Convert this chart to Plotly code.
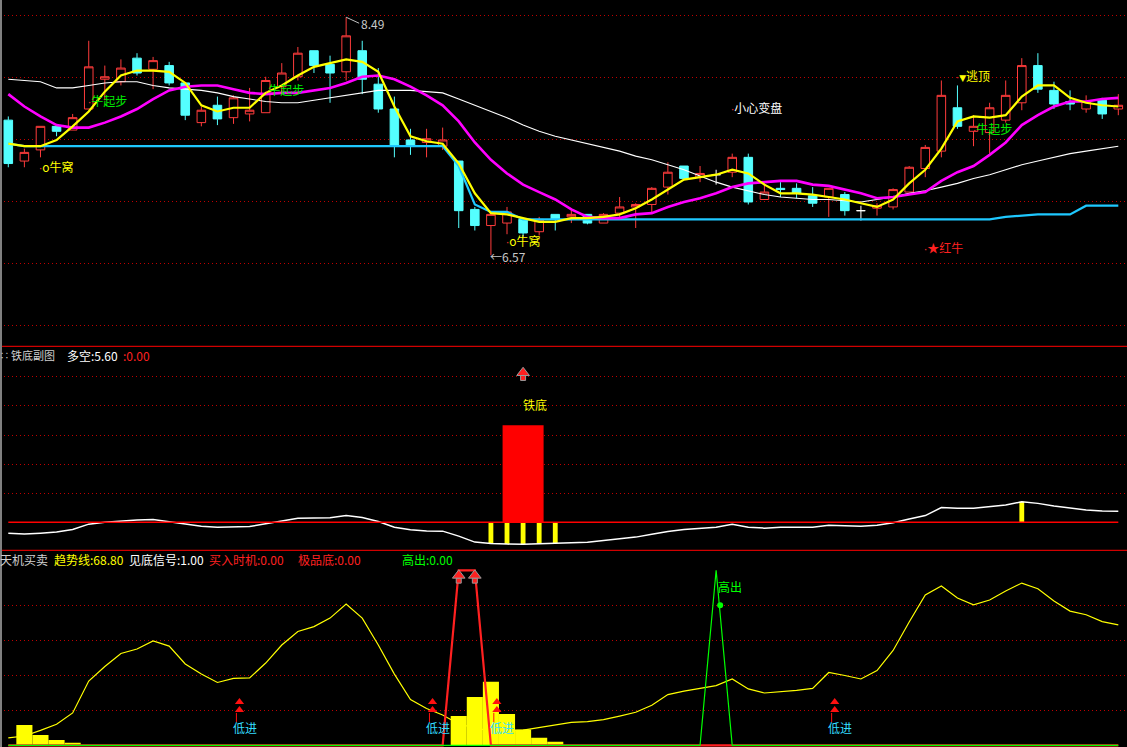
import plotly.graph_objects as go

W, H = 1127, 747
FONT = "Noto Sans CJK SC, Noto Sans, sans-serif"

# ---------------- main chart data ----------------
bars = list(range(70))
k_open = [7.66, 7.33, 7.42, 7.61, 7.58, 7.75, 7.99, 7.97, 8.16, 8.07,
          8.10, 7.96, 7.64, 7.78, 7.68, 7.71, 7.72, 7.93, 8.01, 8.22,
          8.11, 8.05, 8.22, 7.95, 7.75, 7.50, 7.48, 7.45, 7.33, 6.94,
          6.81, 6.83, 6.86, 6.76, 6.90, 6.88, 6.90, 6.83, 6.91, 6.96,
          6.98, 7.12, 7.29, 7.20, 7.22, 7.24, 7.36, 7.02, 7.11, 7.11,
          7.05, 7.04, 7.06, 6.93, 6.95, 6.96, 7.08, 7.27, 7.41, 7.76,
          7.57, 7.56, 7.66, 7.80, 8.10, 7.90, 7.81, 7.75, 7.82, 7.75]
k_high = [7.69, 7.43, 7.61, 7.62, 7.71, 8.30, 8.10, 8.15, 8.20, 8.17,
          8.13, 7.96, 7.77, 7.85, 7.86, 7.92, 8.01, 8.12, 8.25, 8.22,
          8.18, 8.49, 8.30, 8.08, 7.85, 7.59, 7.59, 7.60, 7.33, 6.96,
          6.90, 6.96, 6.86, 6.88, 6.90, 6.94, 6.90, 6.91, 7.04, 6.99,
          7.12, 7.32, 7.29, 7.29, 7.26, 7.39, 7.39, 7.15, 7.16, 7.15,
          7.12, 7.11, 7.08, 6.97, 6.99, 7.11, 7.29, 7.46, 7.98, 7.94,
          7.70, 7.80, 7.98, 8.16, 8.20, 7.97, 7.90, 7.86, 7.84, 7.87]
k_low = [7.28, 7.28, 7.36, 7.53, 7.58, 7.75, 7.82, 7.94, 8.02, 7.91,
         7.94, 7.66, 7.61, 7.62, 7.63, 7.65, 7.72, 7.88, 7.98, 8.04,
         7.80, 7.98, 7.87, 7.72, 7.36, 7.38, 7.36, 7.42, 6.79, 6.77,
         6.57, 6.74, 6.72, 6.73, 6.77, 6.83, 6.82, 6.83, 6.86, 6.79,
         6.91, 7.06, 7.19, 7.16, 7.14, 7.20, 6.98, 7.02, 7.04, 7.03,
         6.96, 6.88, 6.89, 6.85, 6.89, 6.94, 7.08, 7.20, 7.36, 7.59,
         7.45, 7.39, 7.64, 7.74, 7.88, 7.75, 7.74, 7.72, 7.67, 7.70]
k_close = [7.31, 7.40, 7.61, 7.57, 7.68, 8.09, 8.01, 8.08, 8.04, 8.14,
           7.96, 7.70, 7.74, 7.67, 7.84, 7.74, 7.98, 8.04, 8.20, 8.10,
           8.04, 8.34, 7.99, 7.75, 7.45, 7.45, 7.51, 7.50, 6.93, 6.81,
           6.90, 6.92, 6.75, 6.86, 6.86, 6.90, 6.83, 6.90, 6.96, 6.98,
           7.11, 7.24, 7.19, 7.23, 7.22, 7.36, 7.00, 7.08, 7.10, 7.07,
           6.99, 7.11, 6.93, 6.93, 6.97, 7.10, 7.28, 7.44, 7.86, 7.61,
           7.61, 7.76, 7.86, 8.10, 7.91, 7.79, 7.79, 7.81, 7.71, 7.78]

ma_short = [7.47, 7.45, 7.45, 7.50, 7.61, 7.73, 7.89, 8.02, 8.06, 8.06,
            8.05, 7.96, 7.78, 7.73, 7.76, 7.76, 7.88, 7.94, 8.02, 8.09,
            8.12, 8.15, 8.13, 8.05, 7.77, 7.53, 7.49, 7.47, 7.31, 7.07,
            6.91, 6.90, 6.87, 6.84, 6.84, 6.87, 6.87, 6.88, 6.90, 6.95,
            7.02, 7.10, 7.18, 7.20, 7.22, 7.26, 7.23, 7.14, 7.07, 7.07,
            7.06, 7.04, 7.02, 6.99, 6.96, 7.02, 7.15, 7.26, 7.43, 7.65,
            7.69, 7.68, 7.70, 7.85, 7.94, 7.94, 7.84, 7.80, 7.78, 7.77]
ma_mid = [7.87, 7.77, 7.69, 7.62, 7.60, 7.60, 7.64, 7.69, 7.75, 7.83,
          7.90, 7.93, 7.94, 7.94, 7.91, 7.88, 7.87, 7.88, 7.88, 7.90,
          7.92, 7.96, 8.01, 8.02, 7.99, 7.93, 7.86, 7.78, 7.65, 7.48,
          7.34, 7.23, 7.14, 7.08, 7.02, 6.94, 6.88, 6.87, 6.87, 6.90,
          6.91, 6.96, 7.00, 7.03, 7.07, 7.12, 7.15, 7.16, 7.17, 7.17,
          7.14, 7.13, 7.10, 7.07, 7.03, 7.04, 7.06, 7.08, 7.17, 7.24,
          7.29, 7.38, 7.48, 7.62, 7.70, 7.77, 7.81, 7.81, 7.83, 7.84]
ma_long = [7.99, 7.98, 7.97, 7.92, 7.92, 7.94, 7.96, 7.97, 7.97, 7.94,
           7.92, 7.91, 7.90, 7.88, 7.85, 7.83, 7.81, 7.80, 7.80, 7.82,
           7.84, 7.86, 7.88, 7.90, 7.90, 7.90, 7.89, 7.88, 7.83, 7.78,
           7.73, 7.68, 7.62, 7.57, 7.53, 7.50, 7.47, 7.44, 7.41, 7.37,
           7.34, 7.30, 7.26, 7.21, 7.16, 7.12, 7.09, 7.06, 7.04, 7.03,
           7.02, 7.02, 7.01, 7.00, 7.02, 7.04, 7.07, 7.09, 7.12, 7.15,
           7.19, 7.22, 7.26, 7.30, 7.33, 7.36, 7.39, 7.41, 7.43, 7.45]
support = [7.47, 7.45, 7.45, 7.45, 7.45, 7.45, 7.45, 7.45, 7.45, 7.45,
           7.45, 7.45, 7.45, 7.45, 7.45, 7.45, 7.45, 7.45, 7.45, 7.45,
           7.45, 7.45, 7.45, 7.45, 7.45, 7.45, 7.45, 7.45, 7.29, 6.98,
           6.92, 6.92, 6.86, 6.86, 6.86, 6.86, 6.86, 6.86, 6.86, 6.86,
           6.86, 6.86, 6.86, 6.86, 6.86, 6.86, 6.86, 6.86, 6.86, 6.86,
           6.86, 6.86, 6.86, 6.86, 6.86, 6.86, 6.86, 6.86, 6.86, 6.86,
           6.86, 6.86, 6.88, 6.89, 6.90, 6.90, 6.90, 6.97, 6.97, 6.97]

# signal labels on the main chart: (bar, price level, text, colour)
top_labels = [
    (2, 7.29, "o牛窝", "#ffff00"),
    (31, 6.69, "o牛窝", "#ffff00"),
    (5, 7.82, "牛起步", "#00ee00"),
    (16, 7.91, "牛起步", "#00ee00"),
    (60, 7.59, "牛起步", "#00ee00"),
    (45, 7.76, "小心变盘", "#ffffff"),
    (59, 8.02, "<span style='font-family:DejaVu Sans;font-size:9px'>▼</span>逃顶", "#ffff00"),
    (57, 6.63, "★红牛", "#ff2020"),
]

# ---------------- sub chart 1: 铁底副图 ----------------
duokong = [-5.5, -5.9, -5.4, -4.8, -3.6, -0.9, 0.0, 0.7, 1.2, 1.4,
           0.3, -0.7, -1.9, -2.4, -2.4, -2.1, -0.7, 0.7, 2.0, 2.2,
           2.3, 3.4, 2.4, 0.4, -2.5, -3.7, -4.3, -4.4, -6.9, -9.9,
           -10.6, -10.9, -11.0, -10.7, -10.4, -10.0, -10.0, -9.1, -8.1, -7.4,
           -6.0, -4.6, -3.6, -3.0, -2.4, -1.0, -2.5, -2.9, -2.5, -2.5,
           -2.5, -1.5, -1.8, -1.9, -1.5, -0.2, 1.7, 3.4, 7.4, 7.0,
           7.0, 7.7, 8.7, 10.3, 9.5, 8.2, 7.2, 6.2, 5.7, 5.6]
tiedi_idx = [32]
tiedi_val = [48.6]
stick_idx = [30, 31, 32, 33, 34, 63]

# ---------------- sub chart 2: 天机买卖 ----------------
trend = [4.3, 5.3, 8.5, 12.0, 18.5, 36.7, 45.0, 52.5, 55.0, 59.6,
         56.7, 46.5, 40.7, 35.9, 38.2, 38.5, 47.0, 57.3, 65.0, 67.8,
         72.7, 80.7, 72.7, 57.3, 40.7, 26.2, 21.0, 17.3, 12.2, 9.9,
         8.2, 8.2, 8.7, 10.3, 11.8, 13.1, 13.5, 14.7, 16.7, 18.9,
         22.9, 29.0, 31.0, 32.6, 34.1, 37.9, 32.2, 29.9, 30.5, 31.4,
         32.5, 41.6, 39.9, 37.9, 42.7, 54.2, 70.5, 85.9, 91.0, 84.2,
         80.3, 83.0, 88.2, 92.7, 89.5, 82.5, 76.7, 74.6, 70.7, 68.8]
hist_idx = [1, 2, 3, 4, 28, 29, 30, 31, 32, 33, 34]
hist_val = [11.6, 5.9, 3.0, 1.5, 16.7, 27.6, 36.3, 17.9, 9.1, 4.3, 2.1]
buy_line = [0, 0, 0, 0, 0, 0, 0, 0, 0, 0,
            0, 0, 0, 0, 0, 0, 0, 0, 0, 0,
            0, 0, 0, 0, 0, 0, 0, 0, 100, 100,
            0, 0, 0, 0, 0, 0, 0, 0, 0, 0,
            0, 0, 0, 0, 0, 0, 0, 0, 0, 0,
            0, 0, 0, 0, 0, 0, 0, 0, 0, 0,
            0, 0, 0, 0, 0, 0, 0, 0, 0, 0]
high_out = [0, 0, 0, 0, 0, 0, 0, 0, 0, 0,
            0, 0, 0, 0, 0, 0, 0, 0, 0, 0,
            0, 0, 0, 0, 0, 0, 0, 0, 0, 0,
            0, 0, 0, 0, 0, 0, 0, 0, 0, 0,
            0, 0, 0, 0, 100, 0, 0, 0, 0, 0,
            0, 0, 0, 0, 0, 0, 0, 0, 0, 0,
            0, 0, 0, 0, 0, 0, 0, 0, 0, 0]
high_out_dot = [(44, 80)]
low_in_idx = [14, 26, 30, 51]

# ---------------- layout helpers ----------------
XR = [-0.516, 69.54]
TOP_DOM = [1 - 346.3 / H, 1.0]
MID_DOM = [1 - 550.3 / H, 1 - 346.3 / H]
BOT_DOM = [0.0, 1 - 550.3 / H]
GRID = "#c00000"


def px(x):
    return x / W


def py(y):
    return 1 - y / H


def pick(vals, keep):
    return [v if k else None for v, k in zip(vals, keep)]


def block_arrow(xs, level, xa, ya, span):
    """red block arrow icon: triangle head + short shaft"""
    head = go.Scatter(x=xs, y=[level + span] * len(xs), mode="markers",
                      marker=dict(symbol="triangle-up", size=11, color="#ff2020",
                                  line=dict(color="#9a9a9a", width=1)),
                      xaxis=xa, yaxis=ya, hoverinfo="skip")
    shaft = go.Scatter(x=xs, y=[level - span] * len(xs), mode="markers",
                       marker=dict(symbol="square", size=5, color="#ff2020",
                                   line=dict(color="#9a9a9a", width=1)),
                       xaxis=xa, yaxis=ya, hoverinfo="skip")
    return [shaft, head]


fig = go.Figure()

# main chart lines
for vals, col, wd in [(ma_long, "#ffffff", 1.1), (support, "#1ec8ff", 2.2),
                      (ma_mid, "#ff00ff", 2.6), (ma_short, "#ffff00", 2.2)]:
    fig.add_trace(go.Scatter(x=bars, y=vals, mode="lines", line=dict(color=col, width=wd),
                             xaxis="x", yaxis="y", hoverinfo="skip"))

doji = [o == c for o, c in zip(k_open, k_close)]
normal = [not d for d in doji]
fig.add_trace(go.Candlestick(
    x=bars, open=pick(k_open, normal), high=pick(k_high, normal),
    low=pick(k_low, normal), close=pick(k_close, normal),
    increasing=dict(line=dict(color="#ff3c3c", width=1), fillcolor="#000000"),
    decreasing=dict(line=dict(color="#54ffff", width=1), fillcolor="#54ffff"),
    whiskerwidth=0, xaxis="x", yaxis="y", hoverinfo="skip"))
fig.add_trace(go.Candlestick(
    x=bars, open=pick(k_open, doji), high=pick(k_high, doji),
    low=pick(k_low, doji), close=pick(k_close, doji),
    increasing=dict(line=dict(color="#ffffff", width=1), fillcolor="#ffffff"),
    decreasing=dict(line=dict(color="#ffffff", width=1), fillcolor="#ffffff"),
    whiskerwidth=0, xaxis="x", yaxis="y", hoverinfo="skip"))

# sub chart 1
fig.add_trace(go.Bar(x=tiedi_idx, y=tiedi_val, width=2.55, marker=dict(color="#ff0000", line_width=0),
                     xaxis="x2", yaxis="y2", hoverinfo="skip"))
fig.add_trace(go.Bar(x=stick_idx, y=[duokong[i] for i in stick_idx], width=0.3,
                     marker=dict(color="#ffff00", line_width=0), xaxis="x2", yaxis="y2", hoverinfo="skip"))
fig.add_trace(go.Scatter(x=bars, y=duokong, mode="lines", line=dict(color="#ffffff", width=1.5),
                         xaxis="x2", yaxis="y2", hoverinfo="skip"))
for tr in block_arrow(tiedi_idx, 73.6, "x2", "y2", 1.3):
    fig.add_trace(tr)

# sub chart 2
fig.add_trace(go.Bar(x=hist_idx, y=hist_val, width=1.0, marker=dict(color="#ffff00", line_width=0),
                     xaxis="x3", yaxis="y3", hoverinfo="skip"))
fig.add_trace(go.Scatter(x=bars, y=trend, mode="lines", line=dict(color="#ffff00", width=1.2),
                         xaxis="x3", yaxis="y3", hoverinfo="skip"))
fig.add_trace(go.Scatter(x=bars, y=buy_line, mode="lines", line=dict(color="#ff2020", width=2.2),
                         xaxis="x3", yaxis="y3", hoverinfo="skip"))
fig.add_trace(go.Scatter(x=bars, y=high_out, mode="lines", line=dict(color="#00ff00", width=1.2),
                         xaxis="x3", yaxis="y3", hoverinfo="skip"))
buy_idx = [i for i, v in enumerate(buy_line) if v > 0]
for tr in block_arrow(buy_idx, 95.6, "x3", "y3", 1.5):
    fig.add_trace(tr)
fig.add_trace(go.Scatter(x=[d[0] + 0.25 for d in high_out_dot], y=[d[1] for d in high_out_dot],
                         mode="markers", marker=dict(symbol="circle", size=6, color="#00ff00"),
                         xaxis="x3", yaxis="y3", hoverinfo="skip"))
for lvl in (24.7, 20.2):
    fig.add_trace(go.Scatter(x=[i + 0.37 for i in low_in_idx], y=[lvl] * len(low_in_idx), mode="markers",
                             marker=dict(symbol="triangle-up", size=8, color="#ff1010"),
                             xaxis="x3", yaxis="y3", hoverinfo="skip"))

annotations = []
shapes = []

# main chart labels (small red lead dot, then the label)
dot = "<span style='color:#ff3030;font-family:DejaVu Sans;font-size:10px'>·</span>"
for i, lv, txt, col in top_labels:
    annotations.append(dict(x=i, y=lv, xref="x", yref="y", text=dot + txt, showarrow=False,
                            xanchor="left", yanchor="middle", xshift=-3,
                            font=dict(color=col, size=12, family=FONT)))
i_hi = max(bars, key=lambda i: k_high[i])
i_lo = min(bars, key=lambda i: k_low[i])
annotations.append(dict(x=i_hi, y=k_high[i_hi], xref="x", yref="y", text=f"{k_high[i_hi]:.2f}",
                        showarrow=True, arrowhead=0, arrowwidth=1, arrowcolor="#c0c0c0",
                        ax=13, ay=6, xanchor="left", yanchor="middle",
                        font=dict(color="#c8c8c8", size=12, family=FONT)))
annotations.append(dict(x=i_lo, y=k_low[i_lo], xref="x", yref="y", text=f"←{k_low[i_lo]:.2f}",
                        showarrow=False, xanchor="left", yanchor="middle", xshift=-3, yshift=-1,
                        font=dict(color="#c8c8c8", size=12, family=FONT)))

# sub chart 1 labels
annotations.append(dict(x=tiedi_idx[0], y=59.0, xref="x2", yref="y2", text="铁底", showarrow=False,
                        xanchor="left", yanchor="middle", xshift=-2,
                        font=dict(color="#ffff00", size=12, family=FONT)))
for xx, txt, col, fs in [(0, "∷", "#d0d0d0", 9), (11, "铁底副图", "#d0d0d0", 11),
                         (67, "多空:5.60", "#ffffff", 12), (123, ":0.00", "#ff2020", 12)]:
    annotations.append(dict(x=px(xx), y=py(355), xref="paper", yref="paper", text=txt, showarrow=False,
                            xanchor="left", yanchor="middle", xshift=-2,
                            font=dict(color=col, size=fs, family=FONT)))

# sub chart 2 labels
for xx, txt, col in [(0, "天机买卖", "#d0d0d0"), (54, "趋势线:68.80", "#ffff00"),
                     (129, "见底信号:1.00", "#ffffff"), (209, "买入时机:0.00", "#ff2020"),
                     (298, "极品底:0.00", "#ff2020"), (402, "高出:0.00", "#00ff00")]:
    annotations.append(dict(x=px(xx), y=py(559), xref="paper", yref="paper", text=txt, showarrow=False,
                            xanchor="left", yanchor="middle", xshift=-2,
                            font=dict(color=col, size=12, family=FONT)))
annotations.append(dict(x=high_out_dot[0][0], y=90.6, xref="x3", yref="y3", text="高出", showarrow=False,
                        xanchor="left", yanchor="middle",
                        font=dict(color="#00ff00", size=12, family=FONT)))
for i in low_in_idx:
    annotations.append(dict(x=i, y=10.1, xref="x3", yref="y3", text="低进", showarrow=False,
                            xanchor="left", yanchor="middle", xshift=-3,
                            font=dict(color="#33ddff", size=12, family=FONT)))
    shapes.append(dict(type="line", xref="x3", yref="y3", x0=i + 0.18, x1=i + 0.18, y0=13.3, y1=18.5,
                       line=dict(color="#ff1010", width=1)))

# reference lines
shapes.append(dict(type="line", xref="x2", yref="y2", x0=bars[0], x1=bars[-1], y0=0, y1=0,
                   line=dict(color="#ff0000", width=1.5)))
for yy in (346.3, 550.3):
    shapes.append(dict(type="line", xref="paper", yref="paper", x0=0, x1=1, y0=py(yy), y1=py(yy),
                       line=dict(color="#d00000", width=1.2)))
shapes.append(dict(type="line", xref="paper", yref="paper", x0=px(1), x1=px(1), y0=0, y1=1,
                   line=dict(color="#808080", width=2)))

yax_common = dict(showticklabels=False, ticks="", showgrid=True, gridcolor=GRID, griddash="1px,3px",
                  gridwidth=1, zeroline=False, showline=False, tickmode="array", fixedrange=True)
xax_common = dict(range=XR, visible=False, showgrid=False, zeroline=False, domain=[0, 1], fixedrange=True)

fig.update_layout(
    width=W, height=H, margin=dict(l=0, r=0, t=0, b=0),
    paper_bgcolor="#000000", plot_bgcolor="#000000", showlegend=False,
    barmode="overlay", boxgap=0.24, font=dict(family=FONT, size=12, color="#ffffff"),
    xaxis=dict(xax_common, anchor="y", rangeslider=dict(visible=False)),
    xaxis2=dict(xax_common, anchor="y2"),
    xaxis3=dict(xax_common, anchor="y3"),
    yaxis=dict(yax_common, domain=TOP_DOM, range=[5.836, 8.629], anchor="x",
               tickvals=[6.0, 6.5, 7.0, 7.5, 8.0, 8.5]),
    yaxis2=dict(yax_common, domain=MID_DOM, range=[-14.0, 88.15], anchor="x2",
                tickvals=[14.57, 29.14, 43.71, 58.29, 72.86]),
    yaxis3=dict(yax_common, domain=BOT_DOM, range=[-0.97, 111.43], anchor="x3",
                tickvals=[20, 40, 60, 80]),
    annotations=annotations, shapes=shapes,
)

fig.write_html("out.html", config=dict(displayModeBar=False),
               post_script="document.body.style.margin='0';document.body.style.background='#000';")
